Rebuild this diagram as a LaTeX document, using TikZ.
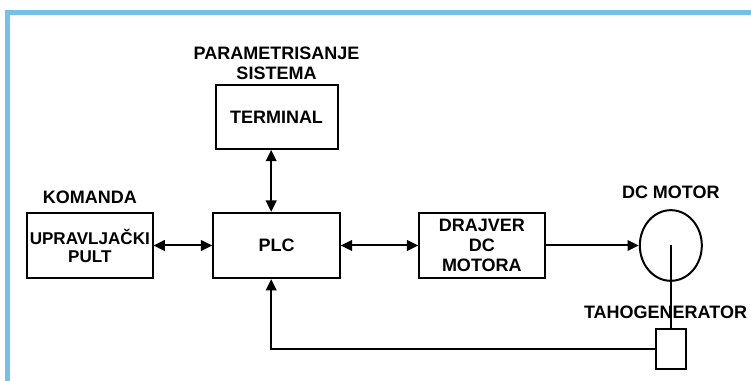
\documentclass[tikz,border=0pt]{standalone}
\usepackage{fontspec}
\setmainfont{Liberation Sans}
\usetikzlibrary{arrows.meta,shapes.geometric,positioning}
\definecolor{framebl}{RGB}{118,193,236}
\tikzstyle{block} = [rectangle, draw, line width=1.5pt, minimum width=94pt, minimum height=49pt, align=center, inner sep=1pt]
\tikzstyle{caption} = [align=center, inner sep=1pt]
\tikzstyle{arrow} = [line width=1.5pt, <->, >={Triangle[length=8.5pt,width=8pt]}]

\begin{document}
\begin{tikzpicture}[x=0.75pt, y=-0.75pt, font=\fontsize{13.5}{14.8}\selectfont\bfseries]
\useasboundingbox (0,0) rectangle (751,381);
% frame
\draw[framebl, line width=3.75pt] (7,381) -- (7,12.5) -- (751,12.5);

% PLC and blocks around it
\node[block, minimum width=95pt] (plc) at (276.5,245.5) {PLC};
\node[block, minimum width=91.5pt, minimum height=48pt, above=46.5pt of plc] (term) {TERMINAL};
\node[block, left=44pt of plc, font=\fontsize{12.8}{13.5}\selectfont\bfseries] (pult) {UPRAVLJAČKI\\PULT};
\node[block, right=58pt of plc] (drv) {DRAJVER\\DC\\MOTORA};

% motor and tachogenerator
\node[ellipse, draw, line width=1.5pt, inner sep=0pt, minimum width=46.5pt, minimum height=53pt, right=70pt of drv] (motor) {};
\node[rectangle, draw, line width=1.5pt, inner sep=0pt, minimum width=22pt, minimum height=30pt, below=34.5pt of motor] (tacho) {};

% Captions
\node[caption, above=2pt of term] (param) {PARAMETRISANJE\\SISTEMA};
\node[caption, above=5pt of pult] (komanda) {KOMANDA};
\node[caption, above=7pt of motor] (dcmotor) {DC MOTOR};
\node[caption, above=5.5pt of tacho, xshift=-4pt] (tahogen) {TAHOGENERATOR};

\draw[arrow] ([xshift=-4pt]term.south) -- ([xshift=-4pt]plc.north);
\draw[arrow] (pult.east) -- (plc.west);
\draw[arrow] (plc.east) -- (drv.west);
\draw[arrow, <-] (motor.west) -- (drv.east);
\draw[line width=1.5pt] (motor.center) -- (tacho.north);
\draw[arrow, <-] ([xshift=-4pt]plc.south) |- (tacho.west);
\end{tikzpicture}
\end{document}
